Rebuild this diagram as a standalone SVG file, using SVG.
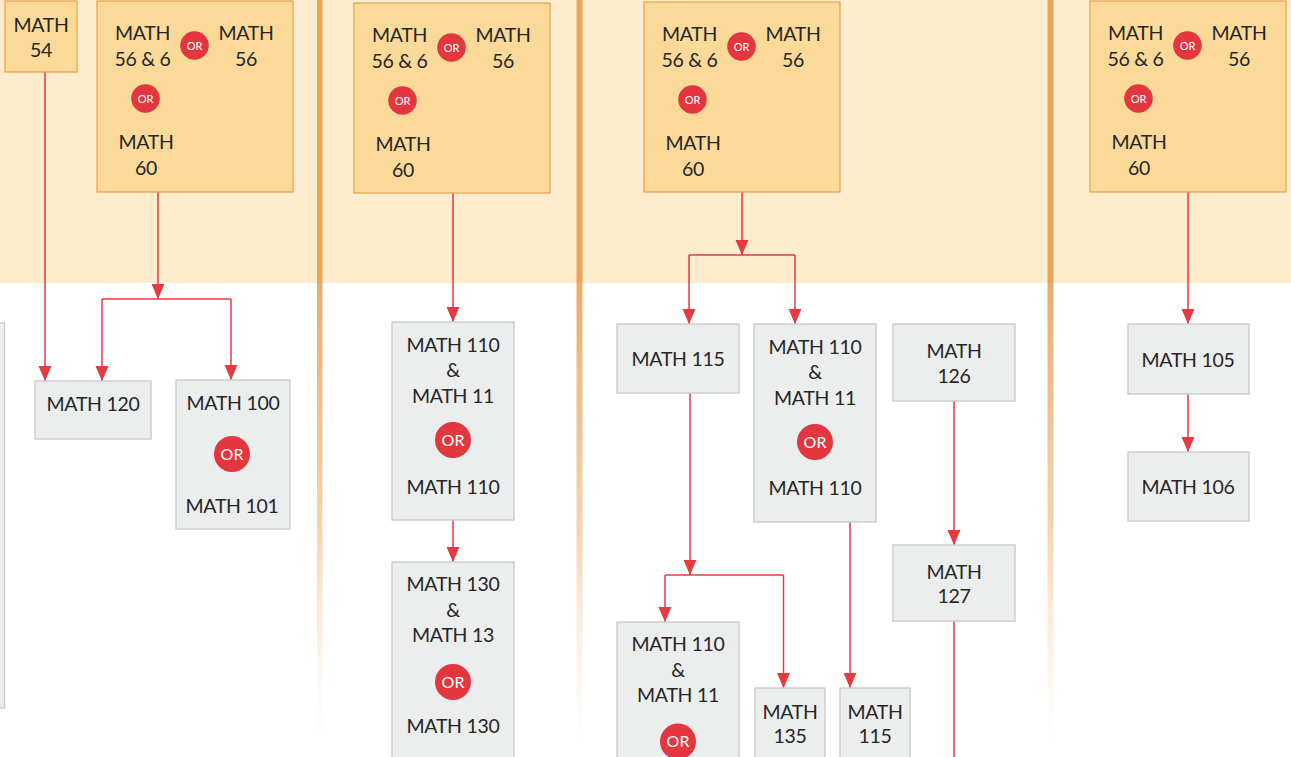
<svg xmlns="http://www.w3.org/2000/svg" width="1291" height="757" viewBox="0 0 1291 757">
<defs>
<style>
.t{font-family:Lato,"Liberation Sans",sans-serif;font-size:19.5px;letter-spacing:-0.3px;fill:#262626;text-anchor:middle}
.ob{fill:#FBD999;stroke:#E8A04A;stroke-width:1.2}
.gb{fill:#ECEDED;stroke:#C6C9CA;stroke-width:1.3}
.orc{fill:#E3363F}
.ors{font-family:Lato,"Liberation Sans",sans-serif;font-size:11px;fill:#fff;text-anchor:middle}
.orb{font-family:Lato,"Liberation Sans",sans-serif;font-size:16px;fill:#fff;text-anchor:middle}
.c{fill:none;stroke:#E43A40;stroke-width:1.5}
.ca{fill:none;stroke:#E43A40;stroke-width:1.5;marker-end:url(#ah)}
</style>
<marker id="ah" markerUnits="userSpaceOnUse" markerWidth="16" markerHeight="14" refX="15" refY="6.5" orient="auto" viewBox="0 0 16 14">
<path d="M0,0 L15,6.5 L0,13 z" fill="#E43A40"/>
</marker>
<linearGradient id="fade" gradientUnits="userSpaceOnUse" x1="0" y1="0" x2="0" y2="757">
<stop offset="0" stop-color="#E6A65B"/>
<stop offset="0.373" stop-color="#E6A65B"/>
<stop offset="0.375" stop-color="#E8AE6A"/>
<stop offset="0.70" stop-color="#F2D0A8" stop-opacity="0.9"/>
<stop offset="0.985" stop-color="#FBEBDB" stop-opacity="0"/>
</linearGradient>
</defs>

<g id="background">
<rect x="0" y="0" width="1291" height="757" fill="#FFFFFF"/>
<rect x="0" y="0" width="1291" height="283" fill="#FDEDCE"/>
<rect x="317" y="0" width="5.5" height="757" fill="url(#fade)"/>
<rect x="576.5" y="0" width="6" height="757" fill="url(#fade)"/>
<rect x="1047.5" y="0" width="6" height="757" fill="url(#fade)"/>
</g>

<g id="connectors">
<path class="ca" d="M45,72 V381"/>
<path class="ca" d="M158,192 V299"/>
<path class="c" d="M102,299 H231"/>
<path class="ca" d="M102,299 V381"/>
<path class="ca" d="M231,299 V380"/>
<path class="ca" d="M453,193 V322"/>
<path class="ca" d="M453,520 V562"/>
<path class="ca" d="M742,192 V255"/>
<path class="c" d="M689,255 H795"/>
<path class="ca" d="M689,255 V324"/>
<path class="ca" d="M795,255 V324"/>
<path class="ca" d="M690,393 V575"/>
<path class="c" d="M665,575 H783.5"/>
<path class="ca" d="M665,575 V622"/>
<path class="ca" d="M783.5,575 V688"/>
<path class="ca" d="M850,522 V688"/>
<path class="ca" d="M954,401 V545"/>
<path class="c" d="M954,621 V757"/>
<path class="ca" d="M1188,192 V324"/>
<path class="ca" d="M1188,394 V452"/>
</g>

<g id="edge-box">
<rect class="gb" x="-2" y="323" width="6.5" height="385"/>
</g>

<g id="math54">
<rect class="ob" x="5" y="1" width="72" height="71"/>
<text class="t" x="41" y="32">MATH</text>
<text class="t" x="41" y="57">54</text>
</g>

<g id="prereq1">
<rect class="ob" x="97" y="1" width="196" height="191"/>
<text class="t" x="142.5" y="40">MATH</text>
<text class="t" x="142.5" y="66">56 &amp; 6</text>
<circle class="orc" cx="194.5" cy="45.5" r="14.3"/>
<text class="ors" x="194.5" y="49.5">OR</text>
<text class="t" x="246" y="40">MATH</text>
<text class="t" x="246" y="66">56</text>
<circle class="orc" cx="145.5" cy="98.5" r="14.3"/>
<text class="ors" x="145.5" y="102.5">OR</text>
<text class="t" x="146" y="149">MATH</text>
<text class="t" x="146" y="175">60</text>
</g>

<g id="prereq2">
<rect class="ob" x="354" y="3" width="196" height="190"/>
<text class="t" x="399.5" y="42">MATH</text>
<text class="t" x="399.5" y="68">56 &amp; 6</text>
<circle class="orc" cx="451.5" cy="47.5" r="14.3"/>
<text class="ors" x="451.5" y="51.5">OR</text>
<text class="t" x="503" y="42">MATH</text>
<text class="t" x="503" y="68">56</text>
<circle class="orc" cx="402.5" cy="100.5" r="14.3"/>
<text class="ors" x="402.5" y="104.5">OR</text>
<text class="t" x="403" y="151">MATH</text>
<text class="t" x="403" y="177">60</text>
</g>

<g id="prereq3">
<rect class="ob" x="644" y="2" width="196" height="190"/>
<text class="t" x="689.5" y="41">MATH</text>
<text class="t" x="689.5" y="67">56 &amp; 6</text>
<circle class="orc" cx="741.5" cy="46.5" r="14.3"/>
<text class="ors" x="741.5" y="50.5">OR</text>
<text class="t" x="793" y="41">MATH</text>
<text class="t" x="793" y="67">56</text>
<circle class="orc" cx="692.5" cy="99.5" r="14.3"/>
<text class="ors" x="692.5" y="103.5">OR</text>
<text class="t" x="693" y="150">MATH</text>
<text class="t" x="693" y="176">60</text>
</g>

<g id="prereq4">
<rect class="ob" x="1090" y="1" width="196" height="191"/>
<text class="t" x="1135.5" y="40">MATH</text>
<text class="t" x="1135.5" y="66">56 &amp; 6</text>
<circle class="orc" cx="1187.5" cy="45.5" r="14.3"/>
<text class="ors" x="1187.5" y="49.5">OR</text>
<text class="t" x="1239" y="40">MATH</text>
<text class="t" x="1239" y="66">56</text>
<circle class="orc" cx="1138.5" cy="98.5" r="14.3"/>
<text class="ors" x="1138.5" y="102.5">OR</text>
<text class="t" x="1139" y="149">MATH</text>
<text class="t" x="1139" y="175">60</text>
</g>

<g id="math120">
<rect class="gb" x="35" y="381" width="116" height="58"/>
<text class="t" x="93" y="411">MATH 120</text>
</g>

<g id="math100-101">
<rect class="gb" x="176" y="380" width="114" height="149"/>
<text class="t" x="233" y="410">MATH 100</text>
<circle class="orc" cx="232" cy="454" r="18"/>
<text class="orb" x="232" y="459.7">OR</text>
<text class="t" x="232" y="513">MATH 101</text>
</g>

<g id="col2-math110">
<rect class="gb" x="392" y="322" width="122" height="198"/>
<text class="t" x="453" y="352">MATH 110</text>
<text class="t" x="453" y="377">&amp;</text>
<text class="t" x="453" y="403">MATH 11</text>
<circle class="orc" cx="453" cy="440" r="18"/>
<text class="orb" x="453" y="445.7">OR</text>
<text class="t" x="453" y="494">MATH 110</text>
</g>

<g id="col2-math130">
<rect class="gb" x="392" y="562" width="122" height="200"/>
<text class="t" x="453" y="590.5">MATH 130</text>
<text class="t" x="453" y="617">&amp;</text>
<text class="t" x="453" y="642">MATH 13</text>
<circle class="orc" cx="453" cy="682" r="18"/>
<text class="orb" x="453" y="687.7">OR</text>
<text class="t" x="453" y="733">MATH 130</text>
</g>

<g id="col3-math115">
<rect class="gb" x="617" y="324" width="122" height="69"/>
<text class="t" x="678" y="365.5">MATH 115</text>
</g>

<g id="col3-math110">
<rect class="gb" x="754" y="324" width="122" height="198"/>
<text class="t" x="815" y="353.5">MATH 110</text>
<text class="t" x="815" y="379">&amp;</text>
<text class="t" x="815" y="405">MATH 11</text>
<circle class="orc" cx="815" cy="442" r="18"/>
<text class="orb" x="815" y="447.7">OR</text>
<text class="t" x="815" y="495">MATH 110</text>
</g>

<g id="math126">
<rect class="gb" x="893" y="324" width="122" height="77"/>
<text class="t" x="954" y="357.5">MATH</text>
<text class="t" x="954" y="383">126</text>
</g>

<g id="math127">
<rect class="gb" x="893" y="545" width="122" height="76"/>
<text class="t" x="954" y="578.5">MATH</text>
<text class="t" x="954" y="603">127</text>
</g>

<g id="col3-bottom-math110">
<rect class="gb" x="617" y="622" width="122" height="140"/>
<text class="t" x="678" y="651">MATH 110</text>
<text class="t" x="678" y="677">&amp;</text>
<text class="t" x="678" y="702">MATH 11</text>
<circle class="orc" cx="678" cy="741.5" r="18"/>
<text class="orb" x="678" y="747.2">OR</text>
</g>

<g id="math135">
<rect class="gb" x="755" y="688" width="70" height="74"/>
<text class="t" x="790" y="718.5">MATH</text>
<text class="t" x="790" y="743">135</text>
</g>

<g id="math115-small">
<rect class="gb" x="840" y="688" width="70" height="74"/>
<text class="t" x="875" y="718.5">MATH</text>
<text class="t" x="875" y="743">115</text>
</g>

<g id="math105">
<rect class="gb" x="1128" y="324" width="121" height="70"/>
<text class="t" x="1188" y="366.5">MATH 105</text>
</g>

<g id="math106">
<rect class="gb" x="1128" y="452" width="121" height="69"/>
<text class="t" x="1188" y="494">MATH 106</text>
</g>
</svg>
